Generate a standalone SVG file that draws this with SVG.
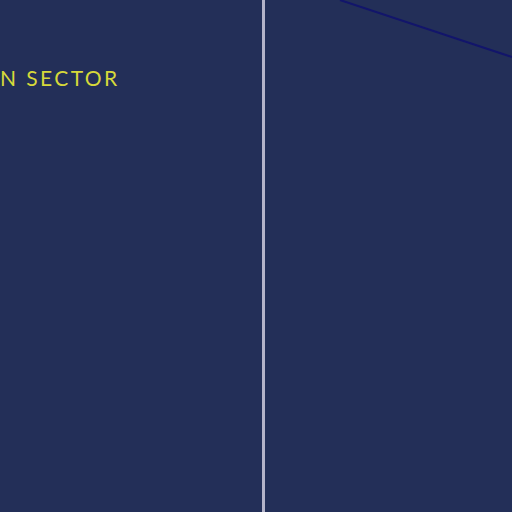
<svg xmlns="http://www.w3.org/2000/svg" width="512" height="512" viewBox="0 0 512 512">
<style>
.lbl{font-family:"Lato","Liberation Sans",sans-serif;font-size:21px;fill:#d6d93a;letter-spacing:2.4px}
</style>
<rect x="0" y="0" width="512" height="512" fill="#232f58"/>
<line x1="263.5" y1="0" x2="263.5" y2="512" stroke="#b3b3c9" stroke-width="3"/>
<line x1="340" y1="0" x2="512" y2="57" stroke="#12156b" stroke-width="2"/>
<text class="lbl" x="0" y="86">N SECTOR</text>
</svg>
